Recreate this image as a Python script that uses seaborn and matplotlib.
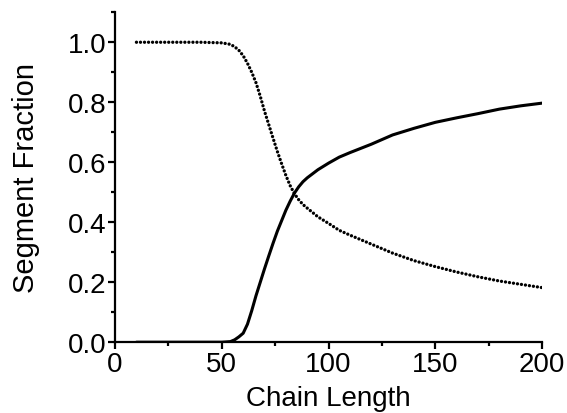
import numpy as np
import pandas as pd
import matplotlib
matplotlib.use("Agg")
import matplotlib.pyplot as plt
from matplotlib.ticker import MultipleLocator
import seaborn as sns

# Chain length sample points
chain_length = [10, 20, 30, 40, 50, 54, 56, 58, 60, 62, 64, 66, 68, 70, 72, 74, 76, 78,
                80, 82, 84, 86, 88, 90, 95, 100, 105, 110, 120, 130, 140, 150, 160, 170,
                180, 190, 200]
# dotted curve
fraction_dotted = [1.0, 1.0, 1.0, 1.0, 0.998, 0.993, 0.985, 0.973, 0.955, 0.93, 0.90,
                   0.865, 0.82, 0.77, 0.725, 0.68, 0.636, 0.595, 0.556, 0.522, 0.495,
                   0.475, 0.459, 0.447, 0.418, 0.396, 0.373, 0.357, 0.327, 0.297, 0.272,
                   0.252, 0.234, 0.218, 0.204, 0.193, 0.182]
# solid curve
fraction_solid = [0.0, 0.0, 0.0, 0.0, 0.0, 0.002, 0.008, 0.018, 0.03, 0.06, 0.105, 0.155,
                  0.2, 0.245, 0.288, 0.33, 0.37, 0.405, 0.44, 0.47, 0.497, 0.518, 0.535,
                  0.548, 0.575, 0.597, 0.617, 0.632, 0.66, 0.691, 0.713, 0.733, 0.748,
                  0.762, 0.777, 0.788, 0.797]

x_ticks = [0, 50, 100, 150, 200]
y_ticks = [0.0, 0.2, 0.4, 0.6, 0.8, 1.0]
y_tick_labels = ["0.0", "0.2", "0.4", "0.6", "0.8", "1.0"]

sns.set_theme(style="ticks")
plt.rcParams['font.family'] = ['Liberation Sans', 'DejaVu Sans']

df_dot = pd.DataFrame({"Chain Length": chain_length, "Segment Fraction": fraction_dotted})
df_sol = pd.DataFrame({"Chain Length": chain_length, "Segment Fraction": fraction_solid})

fig = plt.figure(figsize=(5.67, 4.14), dpi=100)
ax = fig.add_axes([0.203, 0.171, 0.753, 0.797])

sns.lineplot(data=df_sol, x="Chain Length", y="Segment Fraction", ax=ax,
             color="black", linewidth=2.2, solid_capstyle="round",
             solid_joinstyle="round")
sns.lineplot(data=df_dot, x="Chain Length", y="Segment Fraction", ax=ax,
             color="black", linewidth=2.4, linestyle=(0, (0.01, 1.2)),
             dash_capstyle="round")

ax.set_xlim(0, 200)
ax.set_ylim(0, 1.1)
ax.set_xticks(x_ticks)
ax.set_xticklabels([str(t) for t in x_ticks])
ax.set_yticks(y_ticks)
ax.set_yticklabels(y_tick_labels)
ax.xaxis.set_minor_locator(MultipleLocator(25))
ax.yaxis.set_minor_locator(MultipleLocator(0.1))

for side in ["top", "right"]:
    ax.spines[side].set_visible(False)
for side in ["left", "bottom"]:
    ax.spines[side].set_linewidth(1.6)
    ax.spines[side].set_color("black")

ax.tick_params(axis="both", which="major", direction="out", length=5, width=1.6,
               colors="black", labelsize=20, pad=1)
ax.tick_params(axis="both", which="minor", direction="out", length=3, width=1.6,
               colors="black")

ax.set_xlabel("Chain Length", fontsize=20, labelpad=6, color="black")
ax.set_ylabel("Segment Fraction", fontsize=21, labelpad=20, color="black")

fig.savefig("out.png", dpi=100)
